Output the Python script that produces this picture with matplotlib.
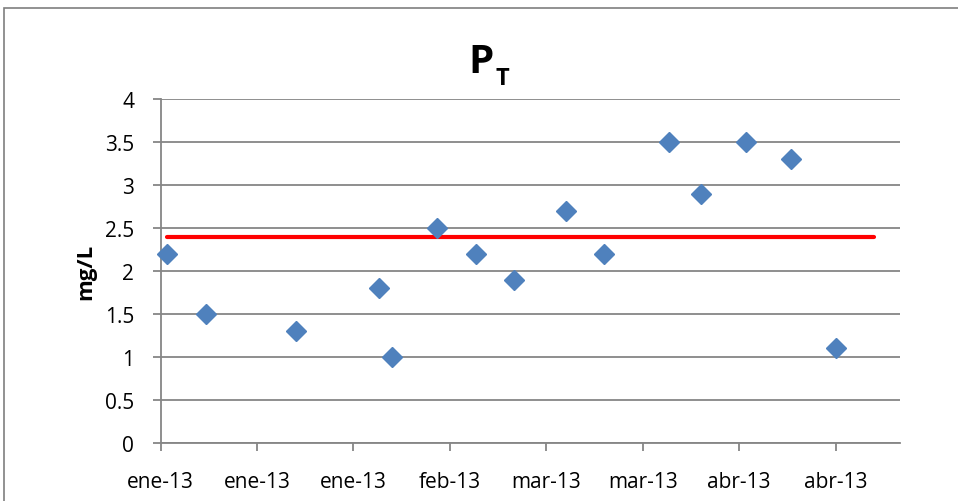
import numpy as np
import matplotlib
matplotlib.use("Agg")
import matplotlib.pyplot as plt
from matplotlib.patches import Rectangle
from datetime import date, timedelta

plt.rcParams['font.family'] = ['Open Sans', 'DejaVu Sans']

# datos de muestreo
fechas = [date(2013, 1, 2), date(2013, 1, 8), date(2013, 1, 22), date(2013, 2, 4),
          date(2013, 2, 6), date(2013, 2, 13), date(2013, 2, 19), date(2013, 2, 25),
          date(2013, 3, 5), date(2013, 3, 11), date(2013, 3, 21), date(2013, 3, 26),
          date(2013, 4, 2), date(2013, 4, 9), date(2013, 4, 16)]
pt = [2.2, 1.5, 1.3, 1.8, 1.0, 2.5, 2.2, 1.9, 2.7, 2.2, 3.5, 2.9, 3.5, 3.3, 1.1]

# limite (linea roja)
lim_fechas = [date(2013, 1, 2), date(2013, 4, 22)]
lim_valor = [2.4, 2.4]

meses = ['ene', 'feb', 'mar', 'abr', 'may', 'jun', 'jul', 'ago', 'sep', 'oct', 'nov', 'dic']
x_ini = date(2013, 1, 1)
x_fin = date(2013, 4, 26)
ticks_x = [x_ini + timedelta(days=15 * i) for i in range(8)]
etiquetas_x = [meses[d.month - 1] + '-' + d.strftime('%y') for d in ticks_x]

ticks_y = np.arange(0, 4.01, 0.5)
etiquetas_y = ['0', '0.5', '1', '1.5', '2', '2.5', '3', '3.5', '4']

gris = '#868686'
W, H = 958, 502

fig = plt.figure(figsize=(W / 100, H / 100), dpi=100)
# marco del area del grafico
fig.patches.append(Rectangle((4 / W, -0.1), 1.1, (H - 9) / H + 0.1,
                             transform=fig.transFigure, fill=False,
                             edgecolor='#7f7f7f', linewidth=1.2))
ax = fig.add_axes([160.5 / W, 58 / H, 739.5 / W, 344 / H])

ax.plot(lim_fechas, lim_valor, color='#ff0000', linewidth=3, solid_capstyle='round', zorder=3)
ax.plot(fechas, pt, linestyle='none', marker='D', markersize=10, color='#4f81bd',
        markeredgecolor='#4f81bd', zorder=4, clip_on=False)

ax.set_xlim(x_ini, x_fin)
ax.set_ylim(0, 4)
ax.set_yticks(ticks_y)
ax.set_yticklabels(etiquetas_y)
ax.set_xticks(ticks_x)
ax.set_xticklabels(etiquetas_x)

ax.grid(axis='y', color=gris, linewidth=1.3)
ax.set_axisbelow(True)
for s in ['top', 'right']:
    ax.spines[s].set_visible(False)
for s in ['left', 'bottom']:
    ax.spines[s].set_color(gris)
    ax.spines[s].set_linewidth(1.3)
ax.tick_params(axis='both', colors=gris, length=6, width=1.3, labelsize=15,
               labelcolor='black')
ax.tick_params(axis='x', pad=14)
ax.tick_params(axis='y', pad=13)

# eje y
fig.text(86 / W, 1 - 272 / H, 'mg/L', rotation=90, ha='center', va='center',
         fontsize=16, fontweight='bold')
# titulo P sub T
fig.text(468 / W, 1 - 73 / H, 'P', ha='left', va='baseline', fontsize=29, fontweight='bold')
fig.text(495 / W, 1 - 85 / H, 'T', ha='left', va='baseline', fontsize=17, fontweight='bold')

fig.savefig('out.png', dpi=100)
